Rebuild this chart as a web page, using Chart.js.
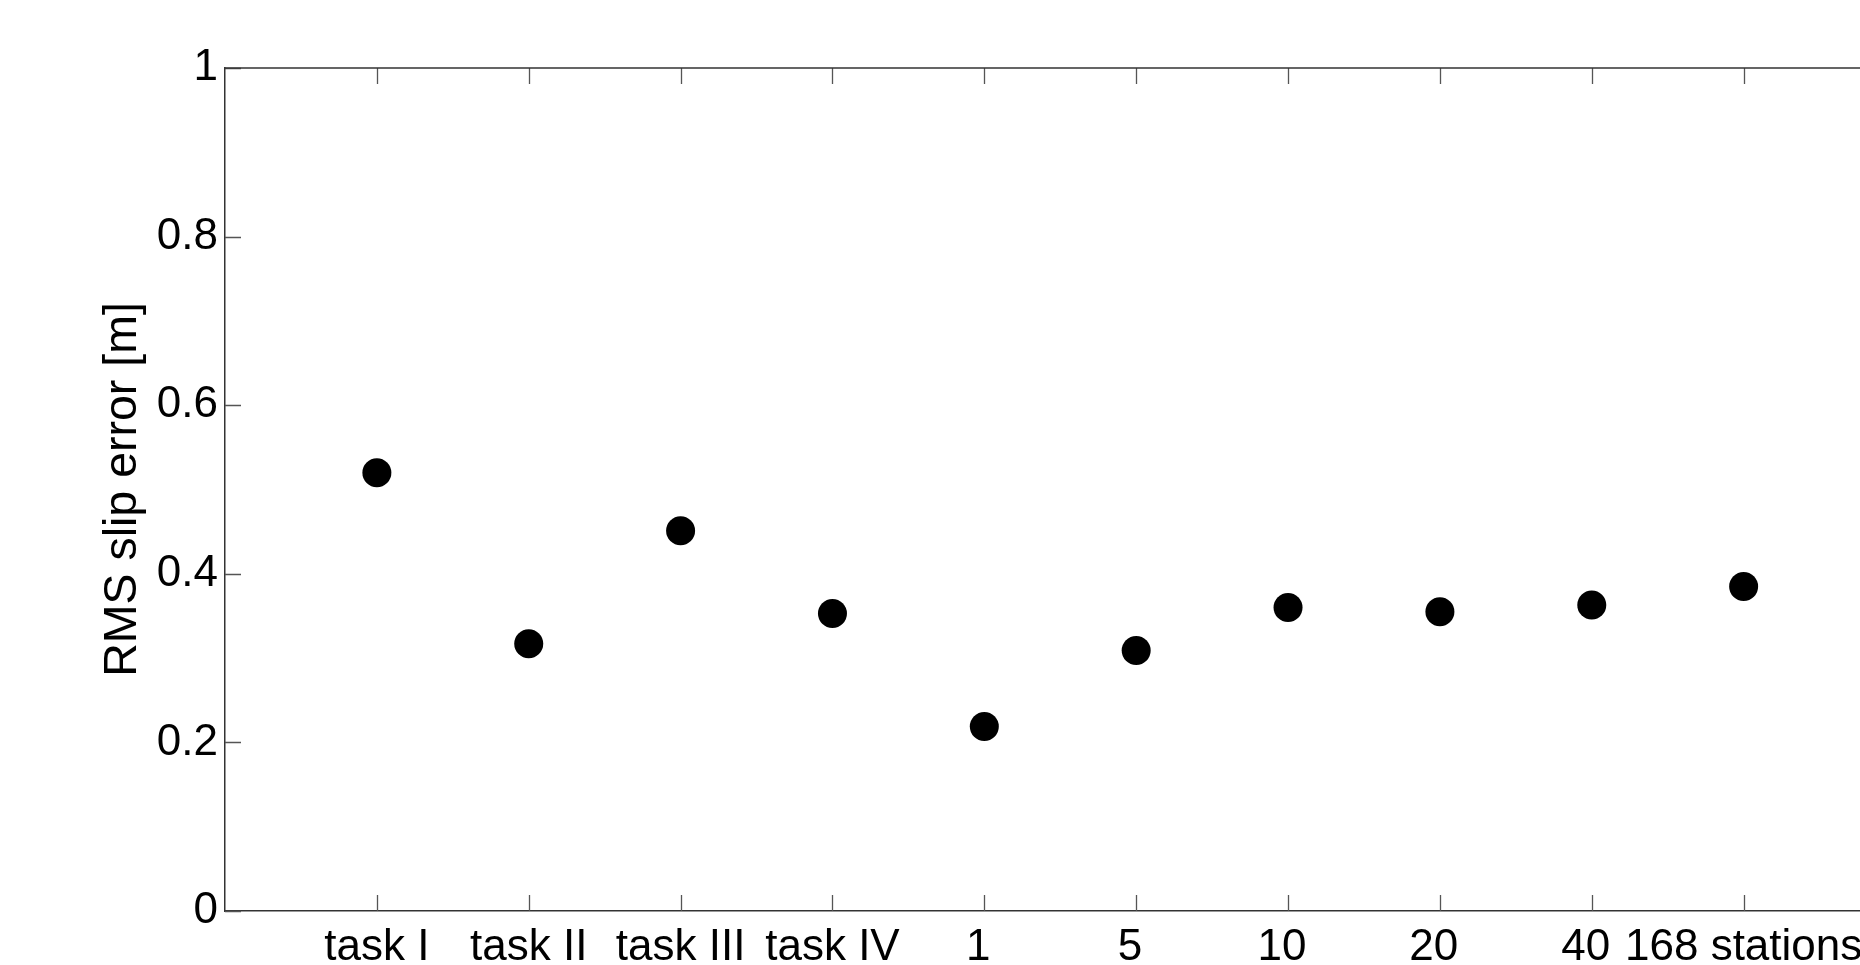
<!DOCTYPE html>
<html>
<head>
<meta charset="utf-8">
<script src="https://cdn.jsdelivr.net/npm/chart.js@4.4.1/dist/chart.umd.min.js"></script>
<style>
  html, body { margin: 0; padding: 0; background: #fff; overflow: hidden; width: 1860px; height: 965px; }
  canvas { display: block; position: absolute; left: 0; top: 0; }
</style>
</head>
<body>
<canvas id="c" width="1910" height="965"></canvas>
<script>
const categories = ["task I", "task II", "task III", "task IV", "1 ", "5 ", "10 ", "20 ", "40 ", "168 stations"];
const rmsSlipError = [0.520, 0.317, 0.451, 0.353, 0.219, 0.309, 0.360, 0.355, 0.363, 0.385];
const yTicks = [0, 0.2, 0.4, 0.6, 0.8, 1];
const yTitle = "RMS slip error [m]";

const FONT = "'Liberation Sans', Arial, Helvetica, sans-serif";

const points = categories.map((c, i) => ({ x: i + 1, y: rmsSlipError[i] }));

const boxTicks = {
  id: 'boxTicks',
  afterDraw(chart) {
    const { ctx, chartArea: a, scales } = chart;
    const len = 16;
    ctx.save();
    ctx.strokeStyle = '#555';
    ctx.lineWidth = 1.3;
    ctx.beginPath();
    scales.x.ticks.forEach(t => {
      const px = Math.round(scales.x.getPixelForValue(t.value)) + 0.5;
      ctx.moveTo(px, a.bottom); ctx.lineTo(px, a.bottom - len);
      ctx.moveTo(px, a.top); ctx.lineTo(px, a.top + len);
    });
    scales.y.ticks.forEach(t => {
      const py = Math.round(scales.y.getPixelForValue(t.value)) + 0.5;
      ctx.moveTo(a.left, py); ctx.lineTo(a.left + len, py);
      ctx.moveTo(a.right, py); ctx.lineTo(a.right - len, py);
    });
    ctx.stroke();
    ctx.strokeStyle = '#333';
    ctx.lineWidth = 1.5;
    ctx.beginPath();
    ctx.moveTo(a.left, a.top); ctx.lineTo(a.right, a.top);
    ctx.moveTo(a.right, a.top); ctx.lineTo(a.right, a.bottom);
    ctx.stroke();
    ctx.restore();
  }
};

new Chart(document.getElementById('c'), {
  type: 'scatter',
  data: {
    datasets: [{
      data: points,
      pointRadius: 14.5,
      pointHoverRadius: 14.5,
      pointBackgroundColor: '#000',
      pointBorderColor: '#000',
      pointBorderWidth: 0,
      showLine: false
    }]
  },
  options: {
    responsive: false,
    animation: false,
    events: [],
    layout: { padding: { top: 68, right: 9, bottom: 0, left: 0 } },
    plugins: { legend: { display: false }, tooltip: { enabled: false } },
    scales: {
      x: {
        type: 'linear',
        min: 0,
        max: categories.length + 1,
        afterBuildTicks: (s) => { s.ticks = categories.map((c, i) => ({ value: i + 1 })); },
        afterFit: (s) => { s.height = 54; },
        grid: { display: false, drawTicks: false },
        border: { display: true, color: '#333', width: 1.5 },
        ticks: {
          padding: 10,
          maxRotation: 0,
          autoSkip: false,
          color: '#000',
          font: { family: FONT, size: 44 },
          callback: (v) => categories[v - 1] ?? ''
        }
      },
      y: {
        min: 0,
        max: 1,
        afterBuildTicks: (s) => { s.ticks = yTicks.map(v => ({ value: v })); },
        afterFit: (s) => { s.width = 225; },
        grid: { display: false, drawTicks: false },
        border: { display: true, color: '#333', width: 1.5 },
        ticks: {
          padding: 7,
          color: '#000',
          font: { family: FONT, size: 44 },
          callback: (v) => String(v)
        },
        title: {
          display: true,
          text: yTitle,
          color: '#000',
          font: { family: FONT, size: 46.5 },
          padding: { top: 95, bottom: 0 }
        }
      }
    }
  },
  plugins: [boxTicks]
});
</script>
</body>
</html>
